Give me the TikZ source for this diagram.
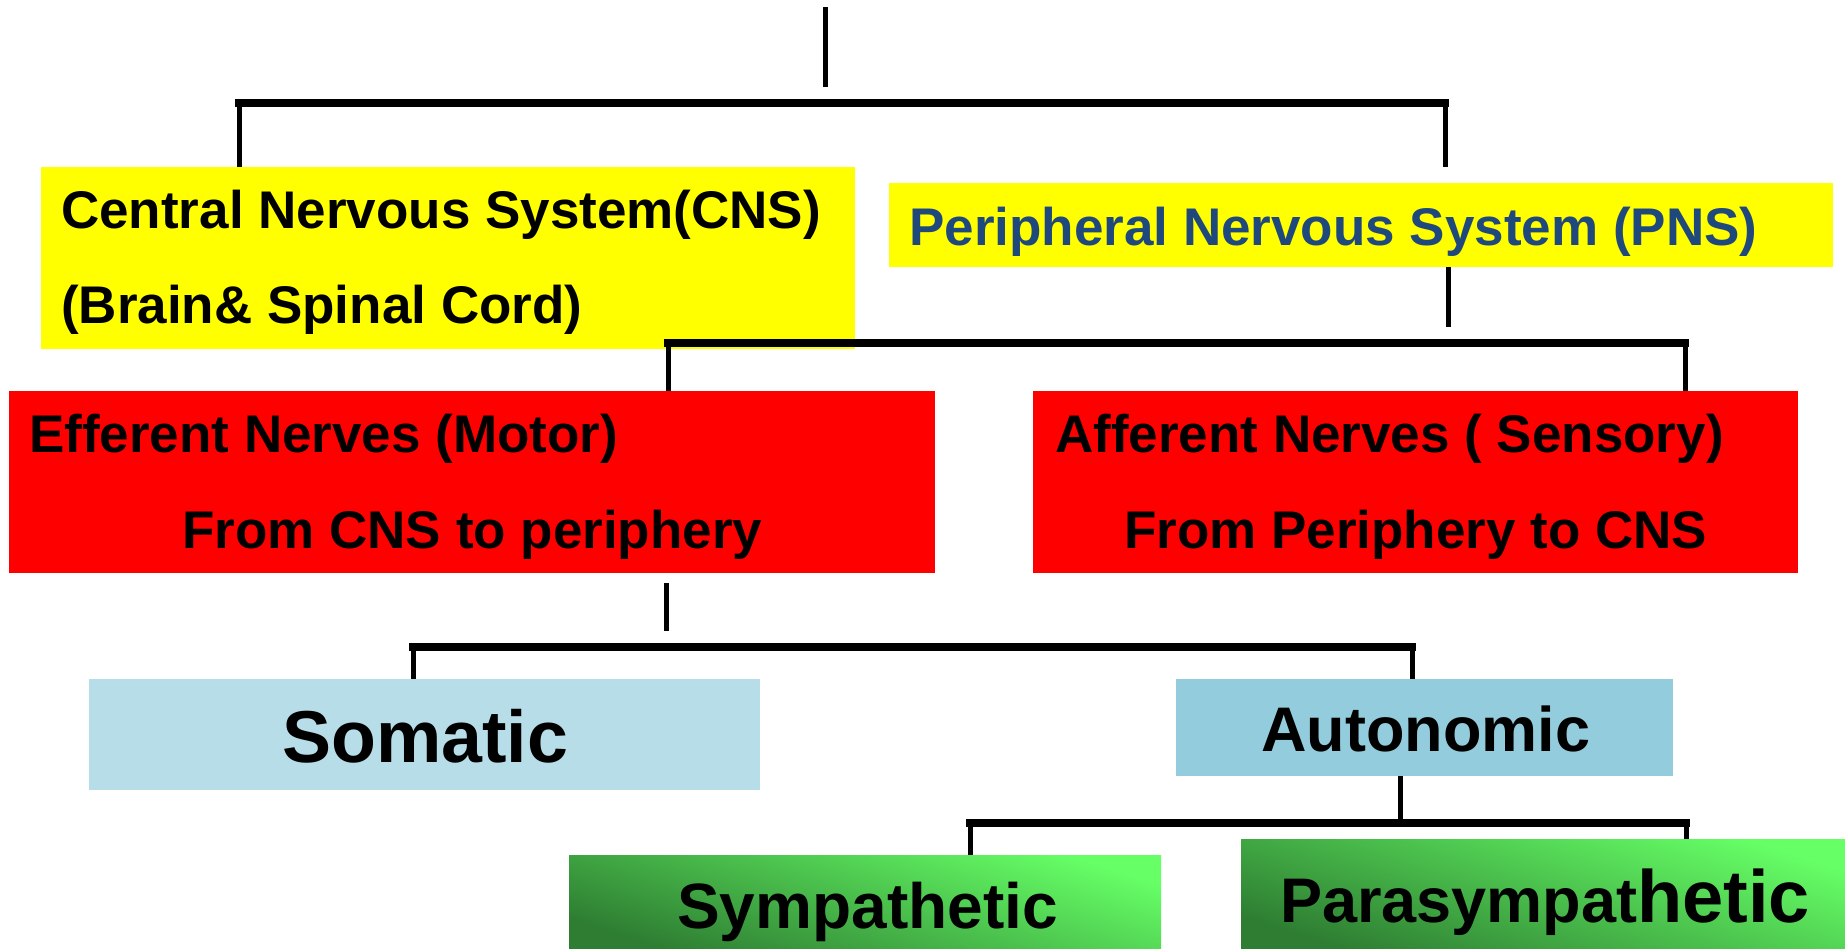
\documentclass[tikz,border=0pt]{standalone}
\usepackage{fontspec}
\setmainfont{Liberation Sans}

\definecolor{cnsyellow}{HTML}{FFFF00}
\definecolor{pnsblue}{HTML}{1F497D}
\definecolor{somblue}{HTML}{B7DDE8}
\definecolor{autblue}{HTML}{93CDDD}
\definecolor{greenhi}{HTML}{66FF66}
\definecolor{greenlo}{HTML}{2E7D32}

\begin{document}
\begin{tikzpicture}[x=1pt,y=-1pt,
   box/.style={inner sep=0pt, anchor=north west},
   lbl/.style={inner sep=0pt, anchor=base west, font=\bfseries\fontsize{53}{60}\selectfont},
   greenbox/.style={box, top color=greenhi, bottom color=greenlo, shading angle=-18},
   stem/.style={line width=5pt},
   bar/.style={line width=7.5pt, line cap=rect}]

   \useasboundingbox (0,0) rectangle (1845,948);

%  boxes
   \node[box, fill=cnsyellow, minimum width=814pt, minimum height=182pt] (cns) at (41,167) {};
   \node[box, fill=cnsyellow, minimum width=944pt, minimum height=84pt] (pns) at (889,183) {};
   \node[box, fill=red, minimum width=926pt, minimum height=182pt] (eff) at (9,391) {};
   \node[box, fill=red, minimum width=765pt, minimum height=182pt] (aff) at (1033,391) {};
   \node[box, fill=somblue, minimum width=671pt, minimum height=111pt] (som) at (89,679) {};
   \node[box, fill=autblue, minimum width=497pt, minimum height=97pt] (aut) at (1176,679) {};
   \node[greenbox, minimum width=592pt, minimum height=93pt] (sym) at (569,855) {};
   \node[greenbox, minimum width=604pt, minimum height=109pt] (para) at (1241,839) {};

%  texts
   \node[lbl] (cnsA) at (61,228) {Central Nervous System(CNS)};
   \node[lbl] (cnsB) at (61,323) {(Brain\& Spinal Cord)};
   \node[lbl, text=pnsblue] (pnsA) at (909,245) {Peripheral Nervous System (PNS)};
   \node[lbl] (effA) at (29,452) {Efferent Nerves (Motor)};
   \node[lbl] (effB) at (182,548) {From CNS to periphery};
   \node[lbl] (affA) at (1055,452) {Afferent Nerves ( Sensory)};
   \node[lbl] (affB) at (1124,548) {From Periphery to CNS};
   \node[lbl, font=\bfseries\fontsize{73.5}{80}\selectfont] (somA) at (282,762) {Somatic};
   \node[lbl, font=\bfseries\fontsize{63}{70}\selectfont] (autA) at (1261,751) {Autonomic};
   \node[lbl, font=\bfseries\fontsize{64}{70}\selectfont] (symA) at (677,928) {Sympathetic};
   \node[lbl, font=\bfseries\fontsize{63}{70}\selectfont] (paraA) at (1280,922)
      {Parasympat\fontsize{74}{80}\selectfont hetic};

%  connectors
   \coordinate (top) at (825,7);
   \coordinate (topend) at (825,87);
   \coordinate (b1l) at (239,103);
   \coordinate (b1r) at (1445,103);
   \coordinate (pnsdown) at (1448,327);
   \coordinate (b2l) at (668,343);
   \coordinate (b2r) at (1685,343);
   \coordinate (effup) at (666,583);
   \coordinate (effdown) at (666,631);
   \coordinate (b3l) at (413,647);
   \coordinate (b3r) at (1412,647);
   \coordinate (autdown) at (1400,819);
   \coordinate (b4l) at (970,823);
   \coordinate (b4r) at (1686,823);

   \draw[stem] (top) -- (topend);
   \draw[bar] (b1l) -- (b1r);
   \draw[stem] (b1l) -- (b1l |- cns.north);
   \draw[stem] (b1r) -- (b1r |- cns.north);

   \draw[stem] (pnsdown |- pns.south) -- (pnsdown);
   \draw[bar] (b2l) -- (b2r);
   \draw[stem] (b2l) -- (b2l |- eff.north);
   \draw[stem] (b2r) -- (b2r |- aff.north);

   \draw[stem] (effup) -- (effdown);
   \draw[bar] (b3l) -- (b3r);
   \draw[stem] (b3l) -- (b3l |- som.north);
   \draw[stem] (b3r) -- (b3r |- aut.north);

   \draw[stem] (autdown |- aut.south) -- (autdown);
   \draw[bar] (b4l) -- (b4r);
   \draw[stem] (b4l) -- (b4l |- sym.north);
   \draw[stem] (b4r) -- (b4r |- para.north);

\end{tikzpicture}
\end{document}
